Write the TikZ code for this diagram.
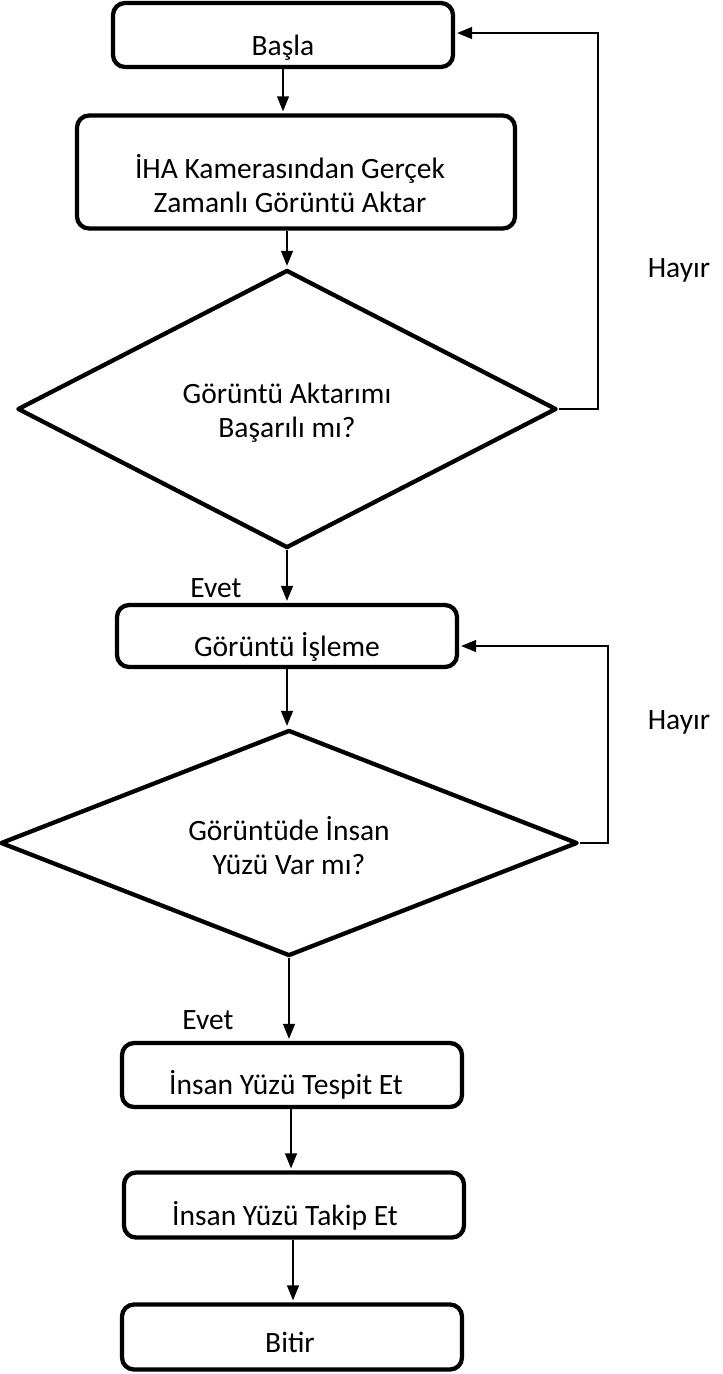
\documentclass[tikz,border=0pt]{standalone}
\usepackage{fontspec}
\setmainfont{Carlito}
\usetikzlibrary{arrows.meta,shapes.geometric}
\begin{document}
\begin{tikzpicture}[x=1pt,y=-1pt,
  box/.style={draw, line width=4.3pt, rounded corners=12pt, inner sep=0pt},
  dec/.style={draw, diamond, line width=4.3pt, line join=round, inner sep=0pt},
  lbl/.style={font=\fontsize{29.5}{34}\selectfont, inner sep=0pt, align=center},
  conn/.style={line width=1.3pt, -{Triangle[length=15pt,width=12pt]}, shorten >=2pt},
  wire/.style={line width=1.3pt}]
\useasboundingbox (0,0) rectangle (723,1374);

% process boxes
\node[box, minimum width=340pt, minimum height=64pt]  (start) at (283,35)   {};
\node[box, minimum width=438pt, minimum height=113pt] (acq)   at (296,172)  {};
\node[box, minimum width=340pt, minimum height=62pt]  (proc)  at (287,636)  {};
\node[box, minimum width=340pt, minimum height=64pt]  (det)   at (292,1075) {};
\node[box, minimum width=340pt, minimum height=65pt]  (trk)   at (294,1205) {};
\node[box, minimum width=340pt, minimum height=65pt]  (stop)  at (292,1337) {};

% decisions
\node[dec, minimum width=539pt, minimum height=278pt] (d1) at (287,409) {};
\node[dec, minimum width=577pt, minimum height=226pt] (d2) at (289,843) {};

% texts
\node[lbl, anchor=base] (tstart) at (283,55) {Başla};
\node[lbl] (tacq) at (290,184) {İHA Kamerasından Gerçek\\Zamanlı Görüntü Aktar};
\node[lbl] (td1) at (287,413) {Görüntü Aktarımı\\Başarılı mı?};
\node[lbl, anchor=base] (tproc) at (287,656) {Görüntü İşleme};
\node[lbl] (td2) at (289,846) {Görüntüde İnsan\\Yüzü Var mı?};
\node[lbl, anchor=base] (tdet) at (286,1094) {İnsan Yüzü Tespit Et};
\node[lbl, anchor=base] (ttrk) at (285,1225) {İnsan Yüzü Takip Et};
\node[lbl, anchor=base] (tstop) at (290,1352) {Bitir};

% branch labels
\node[lbl, anchor=base] (yes1) at (216,597)  {Evet};
\node[lbl, anchor=base] (yes2) at (208,1029) {Evet};
\node[lbl, anchor=base] (no1)  at (679,277)  {Hayır};
\node[lbl, anchor=base] (no2)  at (679,729)  {Hayır};

% guide lines for the vertical runs and the loop-back rails
\coordinate (col0) at (283,0);
\coordinate (rail1) at (598,0);
\coordinate (rail2) at (608,0);

% connectors
\draw[conn] (start.south -| col0) -- (acq.north -| col0);
\draw[conn] (d1.north |- acq.south) -- (d1.north);
\draw[conn] (d1.south) -- (d1.south |- proc.north);
\draw[conn] (proc.south) -- (proc.south |- d2.north);
\draw[conn] (d2.south) -- (d2.south |- det.north);
\draw[conn] ([xshift=-1pt]det.south) -- ([xshift=-1pt]det.south |- trk.north);
\draw[conn] ([xshift=-1pt]trk.south) -- ([xshift=-1pt]trk.south |- stop.north);
\draw[conn] (d1.east) -- (d1.east -| rail1) |- ([yshift=2pt]start.east);
\draw[conn] (d2.east) -- (d2.east -| rail2) |- ([yshift=-10pt]proc.east);
\end{tikzpicture}
\end{document}
